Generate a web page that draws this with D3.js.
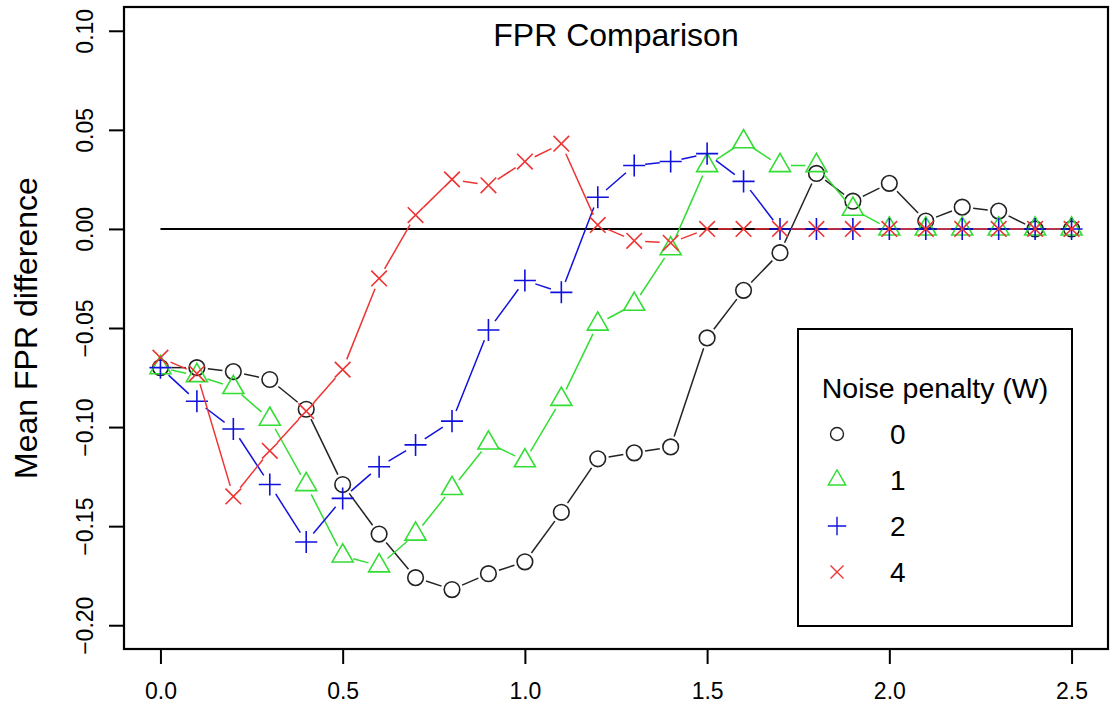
<!DOCTYPE html>
<html>
<head>
<meta charset="utf-8">
<script src="https://d3js.org/d3.v7.min.js"></script>
<style>
    body { margin: 0; background: #fff; }
    text { font-family: "Liberation Sans", Arial, sans-serif; fill: #000; }
</style>
</head>
<body>
<div id="chart"></div>
<script>
// x values (noise level) and mean FPR difference per penalty W
var xVals = [0.0, 0.1, 0.2, 0.3, 0.4, 0.5, 0.6, 0.7, 0.8, 0.9, 1.0, 1.1, 1.2,
             1.3, 1.4, 1.5, 1.6, 1.7, 1.8, 1.9, 2.0, 2.1, 2.2, 2.3, 2.4, 2.5];
var fprW0 = [-0.070, -0.070, -0.072, -0.076, -0.091, -0.129, -0.154, -0.176, -0.182, -0.174, -0.168, -0.143, -0.116,
             -0.113, -0.110, -0.055, -0.031, -0.012, 0.028, 0.014, 0.023, 0.004, 0.011, 0.009, 0.000, 0.000];
var fprW1 = [-0.070, -0.074, -0.080, -0.096, -0.129, -0.165, -0.170, -0.154, -0.131, -0.108, -0.117, -0.086, -0.048,
             -0.038, -0.010, 0.032, 0.044, 0.032, 0.032, 0.010, 0.000, 0.000, 0.000, 0.000, 0.000, 0.000];
var fprW2 = [-0.070, -0.087, -0.101, -0.129, -0.158, -0.136, -0.120, -0.109, -0.097, -0.051, -0.026, -0.032, 0.016,
             0.032, 0.034, 0.038, 0.024, 0.000, 0.000, 0.000, 0.000, 0.000, 0.000, 0.000, 0.000, 0.000];
var fprW4 = [-0.065, -0.073, -0.135, -0.112, -0.092, -0.071, -0.025, 0.007, 0.025, 0.022, 0.034, 0.043, 0.002,
             -0.006, -0.007, 0.000, 0.000, 0.000, 0.000, 0.000, 0.000, 0.000, 0.000, 0.000, 0.000, 0.000];
var seriesNames = ["0", "1", "2", "4"];
var xTicks = [0, 0.5, 1.0, 1.5, 2.0, 2.5];
var yTicks = [-0.20, -0.15, -0.10, -0.05, 0.00, 0.05, 0.10];

var series = [
    { name: seriesNames[0], values: fprW0, color: "#222222", shape: "circle" },
    { name: seriesNames[1], values: fprW1, color: "#33dd33", shape: "triangle" },
    { name: seriesNames[2], values: fprW2, color: "#1111dd", shape: "plus" },
    { name: seriesNames[3], values: fprW4, color: "#ee3333", shape: "cross" }
];

var width = 1110, height = 710;
// plot region (R style, 4% padding on each axis)
var plot = { left: 124, right: 1108, top: 7, bottom: 649 };

var x = d3.scaleLinear().domain([-0.1, 2.6]).range([plot.left, plot.right]);
var y = d3.scaleLinear().domain([-0.212, 0.112]).range([plot.bottom, plot.top]);

var svg = d3.select("#chart")
    .append("svg")
    .attr("width", width)
    .attr("height", height);

// marker path, s is the base symbol size
function symbolPath(shape, s) {
    if (shape == "circle") {
        return "M" + (-s) + ",0A" + s + "," + s + " 0 1,0 " + s + ",0A" + s + "," + s + " 0 1,0 " + (-s) + ",0";
    }
    if (shape == "triangle") {
        var r = 1.555 * s, xc = r * Math.sqrt(3) / 2, yc = r / 2;
        return "M0," + (-r) + "L" + xc + "," + yc + "L" + (-xc) + "," + yc + "Z";
    }
    if (shape == "plus") {
        var p = s * Math.SQRT2;
        return "M" + (-p) + ",0H" + p + "M0," + (-p) + "V" + p;
    }
    return "M" + (-s) + "," + (-s) + "L" + s + "," + s + "M" + (-s) + "," + s + "L" + s + "," + (-s);
}

// zero reference line
svg.append("line")
    .attr("x1", x(0)).attr("x2", x(2.5))
    .attr("y1", y(0)).attr("y2", y(0))
    .attr("stroke", "#000")
    .attr("stroke-width", 2);

// type = "b": segments with gaps around the points
var gap = 11;
series.forEach(function(s) {
    var g = svg.append("g");
    for (var i = 0; i < xVals.length - 1; i++) {
        var x1 = x(xVals[i]), y1 = y(s.values[i]);
        var x2 = x(xVals[i + 1]), y2 = y(s.values[i + 1]);
        var len = Math.sqrt((x2 - x1) * (x2 - x1) + (y2 - y1) * (y2 - y1));
        if (len <= 2 * gap) continue;
        var ux = (x2 - x1) / len, uy = (y2 - y1) / len;
        g.append("line")
            .attr("x1", x1 + ux * gap).attr("y1", y1 + uy * gap)
            .attr("x2", x2 - ux * gap).attr("y2", y2 - uy * gap)
            .attr("stroke", s.color)
            .attr("stroke-width", 1.5);
    }
    g.selectAll("path")
        .data(s.values)
        .enter()
        .append("path")
        .attr("transform", function(d, i) { return "translate(" + x(xVals[i]) + "," + y(d) + ")"; })
        .attr("d", symbolPath(s.shape, 7.8))
        .attr("fill", "none")
        .attr("stroke", s.color)
        .attr("stroke-width", 1.6);
});

// box around plot
svg.append("rect")
    .attr("x", plot.left).attr("y", plot.top)
    .attr("width", plot.right - plot.left)
    .attr("height", plot.bottom - plot.top)
    .attr("fill", "none")
    .attr("stroke", "#000")
    .attr("stroke-width", 2.2);

// x axis
var xAxis = svg.append("g")
    .attr("transform", "translate(0," + plot.bottom + ")")
    .call(d3.axisBottom(x).tickValues(xTicks).tickSize(15).tickFormat(d3.format(".1f")));
xAxis.select(".domain")
    .attr("d", "M" + x(0) + ",0H" + x(2.5))
    .attr("stroke-width", 2);
xAxis.selectAll(".tick line").attr("stroke-width", 2);
xAxis.selectAll(".tick text")
    .attr("y", 50)
    .attr("dy", null)
    .style("font-size", "23px")
    .style("font-family", "'Liberation Sans', Arial, sans-serif")
    .attr("fill", "#000");

// y axis, labels rotated like R's las = 0
var yAxis = svg.append("g")
    .attr("transform", "translate(" + plot.left + ",0)")
    .call(d3.axisLeft(y).tickValues(yTicks).tickSize(15).tickFormat(function(d) {
        return d3.format(".2f")(d).replace("-", "\u2212");
    }));
yAxis.select(".domain")
    .attr("d", "M0," + y(-0.2) + "V" + y(0.1))
    .attr("stroke-width", 2);
yAxis.selectAll(".tick line").attr("stroke-width", 2);
yAxis.selectAll(".tick text")
    .attr("x", null).attr("dy", null)
    .attr("transform", "translate(-31,0) rotate(-90)")
    .style("text-anchor", "middle")
    .style("font-size", "23px")
    .style("font-family", "'Liberation Sans', Arial, sans-serif")
    .attr("fill", "#000");

// title
svg.append("text")
    .attr("x", (x(0) + x(2.5)) / 2)
    .attr("y", 46)
    .style("text-anchor", "middle")
    .style("font-size", "32px")
    .text("FPR Comparison");

// y axis title
svg.append("text")
    .attr("transform", "translate(37," + ((plot.top + plot.bottom) / 2) + ") rotate(-90)")
    .style("text-anchor", "middle")
    .style("font-size", "32px")
    .text("Mean FPR difference");

// legend
var legend = svg.append("g");
legend.append("rect")
    .attr("x", 798).attr("y", 329)
    .attr("width", 274).attr("height", 297)
    .attr("fill", "#fff")
    .attr("stroke", "#000")
    .attr("stroke-width", 2);
legend.append("text")
    .attr("x", 935).attr("y", 398)
    .style("text-anchor", "middle")
    .style("font-size", "28.5px")
    .text("Noise penalty (W)");
var legendRow = d3.scaleLinear().domain([0, 1]).range([434, 480]);
series.forEach(function(s, i) {
    legend.append("path")
        .attr("transform", "translate(837," + legendRow(i) + ")")
        .attr("d", symbolPath(s.shape, 6.5))
        .attr("fill", "none")
        .attr("stroke", s.color)
        .attr("stroke-width", 1.4);
    legend.append("text")
        .attr("x", 890).attr("y", legendRow(i) + 10)
        .style("font-size", "28px")
        .text(s.name);
});
</script>
</body>
</html>
